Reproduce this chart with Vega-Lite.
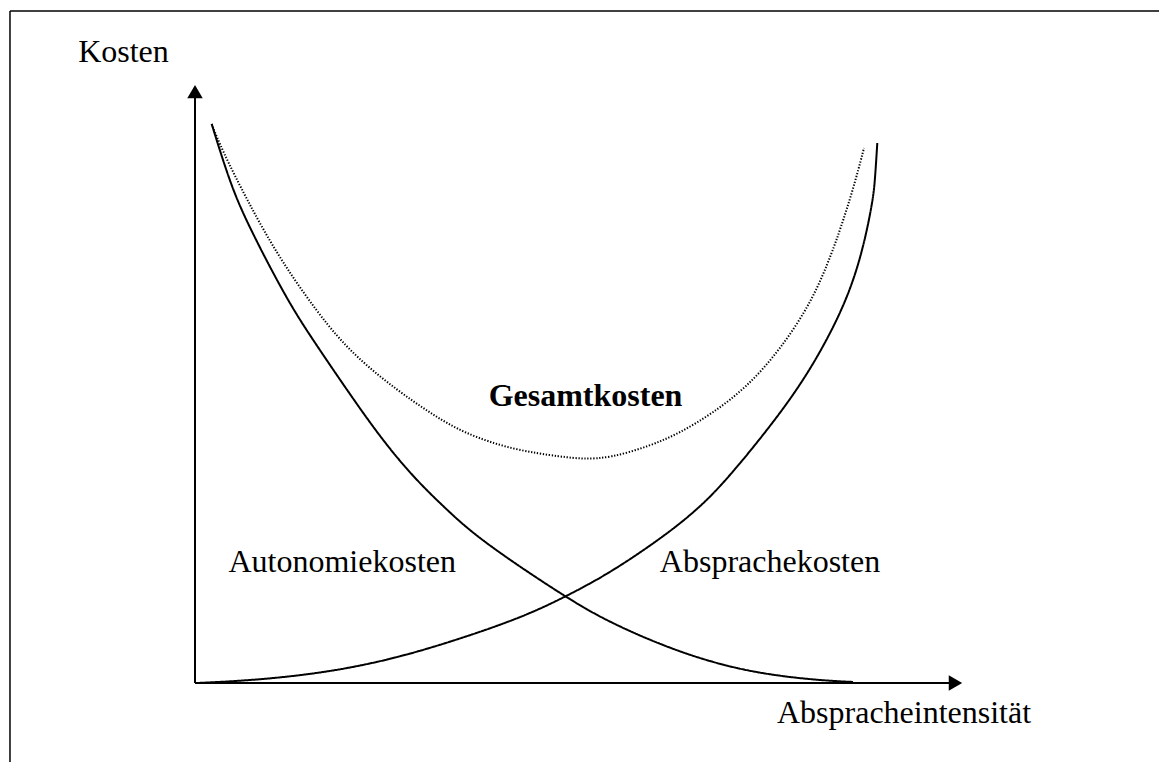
{
  "$schema": "https://vega.github.io/schema/vega-lite/v6.json",
  "width": 1159,
  "height": 762,
  "padding": 0,
  "autosize": {"type": "none"},
  "background": "white",
  "config": {"view": {"stroke": null}},
  "datasets": {
    "frame": [
      {"x": -24.09, "y": -13.19, "x2": -24.09, "y2": 112.19},
      {"x": -24.09, "y": 112.19, "x2": 125.52, "y2": 112.19}
    ],
    "axes": [
      {"x": 0, "y": 0, "x2": 0, "y2": 98},
      {"x": 0, "y": 0, "x2": 98.5, "y2": 0}
    ],
    "arrows": [
      {"dir": "up", "x": 0, "y": 98.72},
      {"dir": "right", "x": 99.02, "y": 0}
    ],
    "curves": [
      {"series": "Autonomiekosten", "x": 2.17, "y": 93.32},
      {"series": "Autonomiekosten", "x": 4.56, "y": 83.47},
      {"series": "Autonomiekosten", "x": 6.77, "y": 76.79},
      {"series": "Autonomiekosten", "x": 11.98, "y": 63.94},
      {"series": "Autonomiekosten", "x": 15.36, "y": 57.26},
      {"series": "Autonomiekosten", "x": 19.79, "y": 48.91},
      {"series": "Autonomiekosten", "x": 24.09, "y": 41.07},
      {"series": "Autonomiekosten", "x": 28.39, "y": 34.39},
      {"series": "Autonomiekosten", "x": 32.81, "y": 28.88},
      {"series": "Autonomiekosten", "x": 37.11, "y": 23.87},
      {"series": "Autonomiekosten", "x": 48.18, "y": 14.36},
      {"series": "Autonomiekosten", "x": 54.04, "y": 10.02},
      {"series": "Autonomiekosten", "x": 63.15, "y": 5.01},
      {"series": "Autonomiekosten", "x": 71.88, "y": 1.84},
      {"series": "Autonomiekosten", "x": 80.47, "y": 0.5},
      {"series": "Autonomiekosten", "x": 85.68, "y": 0.17},
      {"series": "Absprachekosten", "x": 0, "y": 0},
      {"series": "Absprachekosten", "x": 1.04, "y": 0.03},
      {"series": "Absprachekosten", "x": 8.07, "y": 0.5},
      {"series": "Absprachekosten", "x": 16.67, "y": 1.67},
      {"series": "Absprachekosten", "x": 25.39, "y": 3.84},
      {"series": "Absprachekosten", "x": 34.11, "y": 7.18},
      {"series": "Absprachekosten", "x": 42.71, "y": 11.02},
      {"series": "Absprachekosten", "x": 48.18, "y": 14.36},
      {"series": "Absprachekosten", "x": 54.04, "y": 18.36},
      {"series": "Absprachekosten", "x": 60.94, "y": 24.37},
      {"series": "Absprachekosten", "x": 65.36, "y": 28.88},
      {"series": "Absprachekosten", "x": 69.27, "y": 33.89},
      {"series": "Absprachekosten", "x": 77.08, "y": 46.3},
      {"series": "Absprachekosten", "x": 81.38, "y": 55.0},
      {"series": "Absprachekosten", "x": 84.9, "y": 63.94},
      {"series": "Absprachekosten", "x": 86.98, "y": 72.29},
      {"series": "Absprachekosten", "x": 88.28, "y": 80.63},
      {"series": "Absprachekosten", "x": 88.54, "y": 83.97},
      {"series": "Absprachekosten", "x": 88.84, "y": 90.15},
      {"series": "Gesamtkosten", "x": 2.17, "y": 93.32},
      {"series": "Gesamtkosten", "x": 3.52, "y": 88.98},
      {"series": "Gesamtkosten", "x": 6.77, "y": 80.63},
      {"series": "Gesamtkosten", "x": 11.07, "y": 70.62},
      {"series": "Gesamtkosten", "x": 17.58, "y": 58.93},
      {"series": "Gesamtkosten", "x": 21.88, "y": 53.42},
      {"series": "Gesamtkosten", "x": 26.3, "y": 48.91},
      {"series": "Gesamtkosten", "x": 30.6, "y": 45.08},
      {"series": "Gesamtkosten", "x": 34.9, "y": 41.74},
      {"series": "Gesamtkosten", "x": 41.41, "y": 38.9},
      {"series": "Gesamtkosten", "x": 47.92, "y": 37.73},
      {"series": "Gesamtkosten", "x": 50.52, "y": 37.4},
      {"series": "Gesamtkosten", "x": 54.04, "y": 37.56},
      {"series": "Gesamtkosten", "x": 59.24, "y": 39.57},
      {"series": "Gesamtkosten", "x": 63.15, "y": 41.74},
      {"series": "Gesamtkosten", "x": 67.45, "y": 45.08},
      {"series": "Gesamtkosten", "x": 71.88, "y": 49.42},
      {"series": "Gesamtkosten", "x": 76.17, "y": 55.59},
      {"series": "Gesamtkosten", "x": 80.47, "y": 63.94},
      {"series": "Gesamtkosten", "x": 83.07, "y": 72.29},
      {"series": "Gesamtkosten", "x": 83.98, "y": 75.63},
      {"series": "Gesamtkosten", "x": 85.68, "y": 82.3},
      {"series": "Gesamtkosten", "x": 87.11, "y": 89.32}
    ],
    "labels": [
      {"text": "Kosten", "x": -9.31, "y": 103.67},
      {"text": "Abspracheintensität", "x": 92.32, "y": -6.73},
      {"text": "Autonomiekosten", "x": 19.17, "y": 18.58},
      {"text": "Absprachekosten", "x": 74.87, "y": 18.58}
    ],
    "boldlabels": [
      {"text": "Gesamtkosten", "x": 50.85, "y": 46.29}
    ]
  },
  "layer": [
    {
      "data": {"name": "frame"},
      "mark": {"type": "rule", "color": "black", "strokeWidth": 1.5},
      "encoding": {
        "x": {"field": "x", "type": "quantitative", "axis": null, "scale": {"domain": [-25.39, 125.52], "nice": false, "zero": false}},
        "y": {"field": "y", "type": "quantitative", "axis": null, "scale": {"domain": [-13.19, 114.02], "nice": false, "zero": false}},
        "x2": {"field": "x2"},
        "y2": {"field": "y2"}
      }
    },
    {
      "data": {"name": "axes"},
      "mark": {"type": "rule", "color": "black", "strokeWidth": 2},
      "encoding": {
        "x": {"field": "x", "type": "quantitative"},
        "y": {"field": "y", "type": "quantitative"},
        "x2": {"field": "x2"},
        "y2": {"field": "y2"}
      }
    },
    {
      "data": {"name": "arrows"},
      "mark": {"type": "point", "filled": true, "color": "black", "size": 240, "opacity": 1},
      "encoding": {
        "x": {"field": "x", "type": "quantitative"},
        "y": {"field": "y", "type": "quantitative"},
        "shape": {"field": "dir", "type": "nominal", "scale": {"domain": ["up", "right"], "range": ["triangle-up", "triangle-right"]}, "legend": null}
      }
    },
    {
      "data": {"name": "curves"},
      "mark": {"type": "line", "color": "black", "interpolate": "basis"},
      "encoding": {
        "x": {"field": "x", "type": "quantitative"},
        "y": {"field": "y", "type": "quantitative"},
        "detail": {"field": "series", "type": "nominal"},
        "strokeDash": {"field": "series", "type": "nominal", "scale": {"domain": ["Autonomiekosten", "Absprachekosten", "Gesamtkosten"], "range": [[1, 0], [1, 0], [1.3, 1.7]]}, "legend": null},
        "strokeWidth": {"field": "series", "type": "nominal", "scale": {"domain": ["Autonomiekosten", "Absprachekosten", "Gesamtkosten"], "range": [2, 2, 1.3]}, "legend": null}
      }
    },
    {
      "data": {"name": "labels"},
      "mark": {"type": "text", "font": "Liberation Serif", "fontSize": 32, "align": "center", "baseline": "alphabetic", "color": "black"},
      "encoding": {
        "x": {"field": "x", "type": "quantitative"},
        "y": {"field": "y", "type": "quantitative"},
        "text": {"field": "text"}
      }
    },
    {
      "data": {"name": "boldlabels"},
      "mark": {"type": "text", "font": "Liberation Serif", "fontSize": 32, "fontWeight": "bold", "align": "center", "baseline": "alphabetic", "color": "black"},
      "encoding": {
        "x": {"field": "x", "type": "quantitative"},
        "y": {"field": "y", "type": "quantitative"},
        "text": {"field": "text"}
      }
    }
  ]
}
